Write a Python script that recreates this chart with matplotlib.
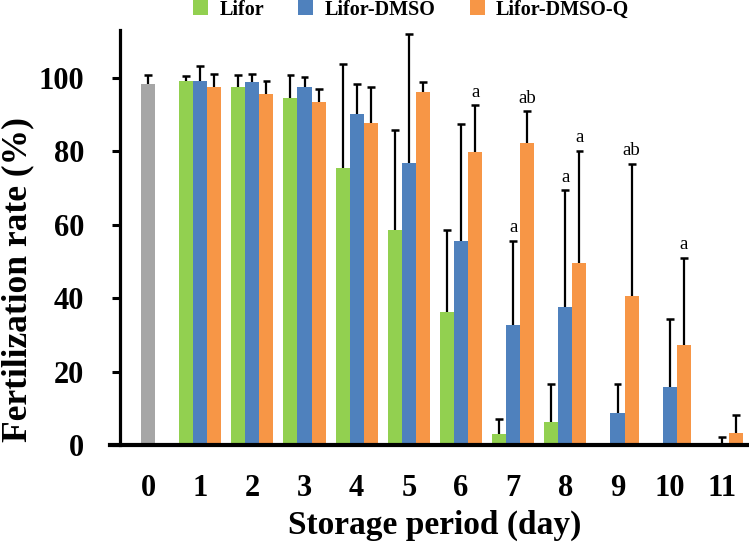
import matplotlib.pyplot as plt
import numpy as np

# storage days
days = [0, 1, 2, 3, 4, 5, 6, 7, 8, 9, 10, 11]

# fresh control (day 0)
control = 98.4
control_err = 2.2

# mean fertilization rate (%) for days 1..11
lifor = [99.0, 97.4, 94.4, 75.4, 58.6, 36.2, 3.0, 6.3, 0, 0, 0]
lifor_err = [1.4, 3.2, 6.4, 28.2, 27.1, 22.4, 4.2, 10.4, 0, 0, 0]
dmso = [99.1, 98.9, 97.4, 90.2, 76.7, 55.6, 32.8, 37.6, 8.6, 15.7, 0]
dmso_err = [4.1, 2.1, 2.9, 8.2, 35.3, 31.7, 22.8, 31.8, 7.9, 18.5, 2.3]
dmsoq = [97.4, 95.5, 93.4, 87.6, 96.1, 79.9, 82.2, 49.6, 40.6, 27.3, 3.2]
dmsoq_err = [3.6, 3.5, 3.5, 9.9, 2.7, 12.6, 8.6, 30.5, 36.0, 23.7, 5.0]

# significance letters: (day, series index, text)
letters = [(6, 2, 'a'), (7, 1, 'a'), (7, 2, 'ab'), (8, 1, 'a'), (8, 2, 'a'),
           (9, 2, 'ab'), (10, 2, 'a')]

plt.rcParams['font.family'] = ['Liberation Serif', 'DejaVu Serif']
plt.rcParams['font.weight'] = 'bold'

fig = plt.figure(figsize=(7.49, 5.44), dpi=100)
ax = fig.add_axes([0.16, 0.182, 0.84, 0.763])

w = 0.27
cap = 0.075
x = np.array(days[1:])
cols = ['#92D050', '#4F81BD', '#F79646']
names = ['Lifor', 'Lifor-DMSO', 'Lifor-DMSO-Q']
series = [lifor, dmso, dmsoq]
errs = [lifor_err, dmso_err, dmsoq_err]


def upper_err(xi, v, e):
    ax.vlines(xi, v, v + e, color='black', lw=1.6, zorder=3)
    ax.hlines(v + e, xi - cap, xi + cap, color='black', lw=1.8, zorder=3)


ax.bar(0, control, w, color='#A6A6A6', zorder=2)
upper_err(0, control, control_err)

tops = {}
for i in range(3):
    xs = x + (i - 1) * w
    ax.bar(xs, series[i], w, color=cols[i], label=names[i], zorder=2)
    for xi, d, v, e in zip(xs, x, series[i], errs[i]):
        tops[(d, i)] = (xi, v + e)
        if e > 0:
            upper_err(xi, v, e)

for d, i, t in letters:
    xi, top = tops[(d, i)]
    ax.text(xi, top + 1.2, t, ha='center', va='bottom', fontsize=13.5,
            fontweight='normal')

ax.set_xlim(-0.54, 11.52)
ax.set_ylim(0, 113)
ax.set_xticks(days)
ax.set_xticklabels([str(d) for d in days])
ax.set_yticks([0, 20, 40, 60, 80, 100])
ax.tick_params(axis='x', length=0, labelsize=22, pad=21)
ax.tick_params(axis='y', length=5.8, width=2.2, labelsize=22, pad=20, direction='out')

for s in ['top', 'right', 'bottom']:
    ax.spines[s].set_visible(False)
ax.spines['left'].set_linewidth(2.3)
ax.axhline(0, xmin=-0.016, xmax=1, color='black', lw=3, clip_on=False, zorder=4)

ax.set_xlabel('Storage period (day)', fontsize=24, fontweight='bold')
ax.xaxis.set_label_coords(0.5, -0.157)
ax.set_ylabel('Fertilization rate (%)', fontsize=25.5, fontweight='bold')
ax.yaxis.label.set_va('center')
ax.yaxis.set_label_coords(-0.162, 0.398)

fig.legend(loc='center', bbox_to_anchor=(0.549, 0.982), ncol=3, frameon=False,
           fontsize=14.5, handlelength=0.75, handleheight=0.75, columnspacing=1.7,
           handletextpad=0.55, borderpad=0)

fig.savefig('out.png', dpi=100)
